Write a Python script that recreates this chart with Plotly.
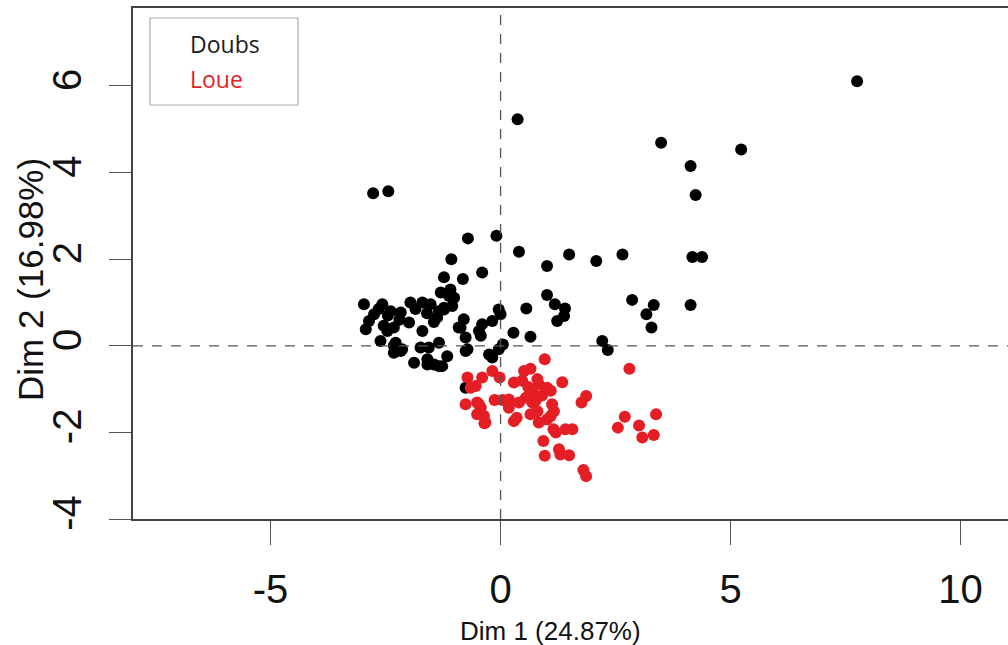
import plotly.graph_objects as go

# Doubs (black) individuals: Dim 1, Dim 2
doubs_x = [7.75, 0.37, 3.49, 5.23, 4.13, 4.24, -2.77, -2.44,
           -0.71, -0.09, 0.40, -1.07, 1.01, 1.49, 2.08, 2.65,
           4.17, 4.38, -0.40, -1.23, -0.82, 1.01, 1.18, 1.40, 1.38, 1.23, 0.56,
           2.86, 3.33, 3.17, 3.28, 4.13, 2.21, 2.33,
           0.65, 0.28, 0.05, -0.04, 0.00, -0.18, -0.40, -0.47, -0.87, -0.76, -0.72, -0.43,
           -0.04, -0.25, -0.18, -1.09, -1.01, -1.23, -1.16, -1.27, -0.91,
           -2.97, -2.57, -2.75, -2.86, -2.93, -2.39, -2.17, -1.96, -1.99, -2.54, -2.32, -2.46,
           -1.70, -1.52, -1.34, -1.23, -1.38, -1.70, -2.61, -2.32, -2.17, -2.32, -1.88,
           -1.74, -1.56, -1.59, -1.34, -1.34, -1.45, -1.30, -1.12, -0.76,
           -2.65, -2.45, -2.20, -1.85, -1.60, -1.45, -2.28, -2.14, -1.59, -0.76, -0.80, -1.05]
doubs_y = [6.11, 5.23, 4.69, 4.53, 4.15, 3.48, 3.52, 3.57,
           2.48, 2.54, 2.17, 2.00, 1.84, 2.11, 1.96, 2.11,
           2.05, 2.05, 1.69, 1.58, 1.54, 1.17, 0.96, 0.86, 0.69, 0.57, 0.86,
           1.06, 0.94, 0.73, 0.42, 0.94, 0.11, -0.10,
           0.21, 0.30, 0.03, 0.84, 0.73, 0.57, 0.50, 0.34, 0.42, 0.19, -0.08, 0.23,
           -0.08, -0.20, -0.27, 1.30, 1.11, 0.84, -0.24, -0.47, 0.42,
           0.96, 0.96, 0.73, 0.57, 0.38, 0.80, 0.77, 1.00, 0.54, 0.46, 0.42, 0.34,
           1.00, 0.96, 0.80, 0.88, 0.65, 0.34, 0.11, 0.00, -0.12, -0.16, -0.39,
           -0.04, -0.04, -0.31, 0.07, -0.47, -0.43, 1.23, 1.15, -0.97,
           0.85, 0.70, 0.60, 0.85, 0.75, 0.55, 0.07, -0.08, -0.43, -0.12, 0.61, 0.92]

# Loue (red) individuals: Dim 1, Dim 2
loue_x = [0.96, 2.80, -0.72, -0.40, -0.18, -0.02, -0.65, -0.54, -0.76, -0.51, -0.43, -0.51,
          -0.35, -0.13, 0.04, 0.18, 0.18, 0.40, 0.29, 0.35, 0.29, 0.51, 0.65, 0.47, 0.80,
          0.83, 1.01, 1.09, 1.34, 0.72, 0.76, 0.69, 0.65, 0.80, 1.12, 1.16, 1.09, 1.01, 0.83,
          1.15, 1.20, 1.41, 1.56, 0.93, 0.96, 1.27, 1.30, 1.49, 1.80, 1.86, 1.76, 1.86,
          2.70, 2.55, 3.01, 3.08, 3.33, 3.38, -0.47, -0.36, -0.33, 0.60, 0.90, 0.55]
loue_y = [-0.31, -0.53, -0.73, -0.73, -0.58, -0.73, -0.97, -0.93, -1.35, -1.31, -1.43, -1.58,
          -1.79, -1.25, -1.25, -1.24, -1.43, -1.31, -1.74, -1.66, -0.85, -0.58, -0.53, -0.81, -0.77,
          -0.89, -0.97, -1.04, -0.84, -1.12, -1.27, -1.31, -1.58, -1.51, -1.35, -1.51, -1.62, -1.70, -1.77,
          -1.93, -2.00, -1.93, -1.93, -2.20, -2.54, -2.39, -2.51, -2.53, -2.87, -3.01, -1.31, -1.16,
          -1.64, -1.89, -1.84, -2.12, -2.06, -1.58, -1.35, -1.62, -1.77, -0.95, -1.15, -1.20]

x_ticks = [-5, 0, 5, 10]
x_tick_labels = ["-5", "0", "5", "10"]
y_ticks = [-4, -2, 0, 2, 4, 6]
y_tick_labels = ["-4", "-2", "0", "2", "4", "6"]
x_title = "Dim 1 (24.87%)"
y_title = "Dim 2 (16.98%)"
groups = ["Doubs", "Loue"]
colors = ["#000000", "#e41e24"]

fig = go.Figure()
fig.add_trace(go.Scatter(x=doubs_x, y=doubs_y, mode="markers", name=groups[0],
                         marker=dict(color=colors[0], size=12, line=dict(width=0)),
                         showlegend=False))
fig.add_trace(go.Scatter(x=loue_x, y=loue_y, mode="markers", name=groups[1],
                         marker=dict(color=colors[1], size=12, line=dict(width=0)),
                         showlegend=False))

tick_font = dict(family="Liberation Sans, Arial, sans-serif", size=40, color="#111111")

fig.update_layout(
    width=1008, height=645,
    margin=dict(l=133, r=0, t=8, b=126),
    paper_bgcolor="white", plot_bgcolor="white",
    xaxis=dict(range=[-7.99, 11.03], tickvals=x_ticks, ticktext=x_tick_labels,
               ticks="outside", ticklen=24,
               tickcolor="#555555", tickwidth=1, showgrid=False, zeroline=False,
               showline=True, linecolor="#444444", linewidth=1.5, mirror=True,
               tickfont=tick_font, ticklabelstandoff=10),
    yaxis=dict(range=[-4.0, 7.80], tickvals=y_ticks, ticktext=y_tick_labels,
               ticks="outside", ticklen=22,
               tickcolor="#555555", tickwidth=1, showgrid=False, zeroline=False,
               showline=True, linecolor="#444444", linewidth=1.5,
               tickfont=tick_font, tickangle=-90, ticklabelstandoff=12),
    shapes=[
        dict(type="line", xref="x", yref="paper", x0=0, x1=0, y0=0, y1=1,
             line=dict(color="#555555", width=1.3, dash="10px,9px")),
        dict(type="line", xref="paper", yref="y", x0=0, x1=1, y0=0, y1=0,
             line=dict(color="#555555", width=1.3, dash="10px,9px")),
        dict(type="rect", xref="paper", yref="paper",
             x0=(150 - 133) / 875, x1=(298 - 133) / 875,
             y0=(519 - 105) / 511, y1=(519 - 18) / 511,
             line=dict(color="#aaaaaa", width=1.2), fillcolor="white"),
    ],
    annotations=[
        dict(text=groups[0], xref="paper", yref="paper", x=(188 - 133) / 875,
             y=(519 - 44) / 511, xanchor="left", yanchor="middle", showarrow=False,
             font=dict(family="Open Sans, Noto Sans, sans-serif", size=23, color="#1a1a1a")),
        dict(text=groups[1], xref="paper", yref="paper", x=(188 - 133) / 875,
             y=(519 - 79) / 511, xanchor="left", yanchor="middle", showarrow=False,
             font=dict(family="Open Sans, Noto Sans, sans-serif", size=23, color=colors[1])),
        dict(text=x_title, xref="paper", yref="paper", x=(550 - 133) / 875,
             y=(519 - 631) / 511, xanchor="center", yanchor="middle", showarrow=False,
             font=dict(family="Liberation Sans, Arial, sans-serif", size=26, color="#111111")),
        dict(text=y_title, xref="paper", yref="paper", x=(30 - 133) / 875,
             y=(519 - 280) / 511, xanchor="center", yanchor="middle", showarrow=False,
             textangle=-90,
             font=dict(family="Liberation Sans, Arial, sans-serif", size=35, color="#111111")),
    ],
)

fig.write_html("out.html")
